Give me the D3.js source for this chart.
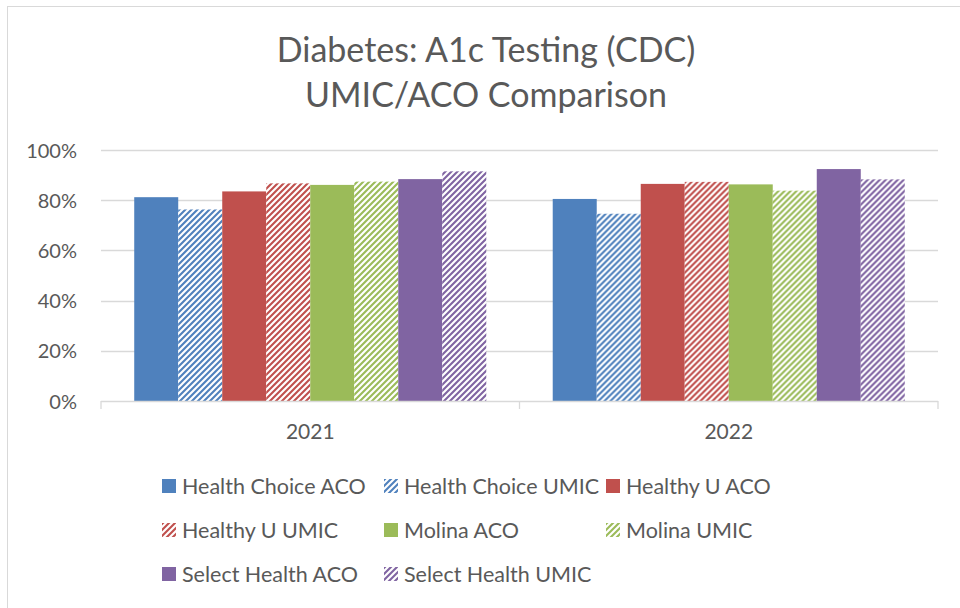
<!DOCTYPE html>
<html>
<head>
<meta charset="UTF-8">
<script src="https://d3js.org/d3.v7.min.js"></script>
<style>
  body { margin: 0; background: #fff; }
  text { font-family: Lato, "Open Sans", sans-serif; fill: #595959; }
</style>
</head>
<body>
<svg id="chart" width="960" height="608"></svg>
<script>
// data
var years = ["2021", "2022"];
var seriesNames = ["Health Choice ACO", "Health Choice UMIC", "Healthy U ACO", "Healthy U UMIC",
                   "Molina ACO", "Molina UMIC", "Select Health ACO", "Select Health UMIC"];
var values2021 = [0.812, 0.763, 0.835, 0.867, 0.861, 0.874, 0.884, 0.915];
var values2022 = [0.805, 0.746, 0.865, 0.873, 0.863, 0.838, 0.924, 0.883];
var yTicks = [0, 0.2, 0.4, 0.6, 0.8, 1.0];
var seriesColors = ["#4F81BD", "#4F81BD", "#C0504D", "#C0504D", "#9BBB59", "#9BBB59", "#8064A2", "#8064A2"];
var seriesHatched = [false, true, false, true, false, true, false, true];

var svg = d3.select("#chart");

// cadre du graphique
svg.append("rect")
  .attr("x", 7.5).attr("y", 6.5)
  .attr("width", 1000).attr("height", 700)
  .attr("fill", "none").attr("stroke", "#D9D9D9");

// motifs hachurés (diagonale montante)
var defs = svg.append("defs");
seriesColors.forEach(function(c, i) {
  if (!seriesHatched[i]) return;
  var p = defs.append("pattern")
    .attr("id", "hatch" + i)
    .attr("patternUnits", "userSpaceOnUse")
    .attr("width", 6).attr("height", 6);
  p.append("rect").attr("width", 6).attr("height", 6).attr("fill", "#fff");
  p.append("path")
    .attr("d", "M-1.5,1.5 l3,-3 M0,6 l6,-6 M4.5,7.5 l3,-3")
    .attr("stroke", c).attr("stroke-width", 2.1);
});
function fillFor(i) { return seriesHatched[i] ? "url(#hatch" + i + ")" : seriesColors[i]; }

// titre
var title = svg.append("text")
  .attr("text-anchor", "middle")
  .style("font-size", "34px");
title.append("tspan").attr("x", 486).attr("y", 62).text("Diabetes: A1c Testing (CDC)");
title.append("tspan").attr("x", 486).attr("y", 107).text("UMIC/ACO Comparison");

// échelles
var plotLeft = 101, plotRight = 938, plotTop = 150, plotBottom = 401;
var x = d3.scaleBand().domain(years).range([plotLeft, plotRight]);
var xInner = d3.scaleBand().domain(d3.range(seriesNames.length))
  .range([0, x.bandwidth()]).paddingOuter(0.755).paddingInner(0);
var y = d3.scaleLinear().domain([0, 1]).range([plotBottom, plotTop]);

// grille
svg.append("g").selectAll("line")
  .data(yTicks.slice(1))
  .enter().append("line")
    .attr("x1", plotLeft).attr("x2", plotRight)
    .attr("y1", function(d) { return Math.round(y(d)) + 0.5; })
    .attr("y2", function(d) { return Math.round(y(d)) + 0.5; })
    .attr("stroke", "#D9D9D9").attr("stroke-width", 1.3);

// axe Y
var yAxis = svg.append("g")
  .attr("transform", "translate(" + (plotLeft - 24) + ",0)")
  .call(d3.axisLeft(y).tickValues(yTicks).tickFormat(d3.format(".0%")).tickSize(0));
yAxis.select(".domain").remove();
yAxis.selectAll("text")
  .style("font-size", "20px")
  .style("font-family", "Lato, 'Open Sans', sans-serif")
  .attr("fill", "#595959").attr("x", 0).attr("dy", "0.35em");

// barres
var table = years.map(function(yr, j) {
  var vals = j === 0 ? values2021 : values2022;
  return { year: yr, vals: vals };
});
svg.append("g").selectAll("g")
  .data(table)
  .enter().append("g")
    .attr("transform", function(d) { return "translate(" + x(d.year) + ",0)"; })
  .selectAll("rect")
  .data(function(d) { return d.vals.map(function(v, i) { return { i: i, v: v }; }); })
  .enter().append("rect")
    .attr("x", function(d) { return xInner(d.i); })
    .attr("width", xInner.bandwidth())
    .attr("y", function(d) { return y(d.v); })
    .attr("height", function(d) { return y(0) - y(d.v); })
    .attr("fill", function(d) { return fillFor(d.i); });

// axe X
var xAxis = svg.append("g")
  .attr("transform", "translate(0," + plotBottom + ")");
xAxis.append("line")
  .attr("x1", plotLeft).attr("x2", plotRight).attr("y1", 0.5).attr("y2", 0.5)
  .attr("stroke", "#D9D9D9").attr("stroke-width", 1.3);
xAxis.selectAll("line.tick")
  .data([plotLeft, plotLeft + x.bandwidth(), plotRight])
  .enter().append("line")
    .attr("class", "tick")
    .attr("x1", function(d) { return d; }).attr("x2", function(d) { return d; })
    .attr("y1", 0).attr("y2", 8)
    .attr("stroke", "#D9D9D9").attr("stroke-width", 1.3);
xAxis.selectAll("text")
  .data(years)
  .enter().append("text")
    .attr("x", function(d) { return x(d) + x.bandwidth() / 2; })
    .attr("y", 31)
    .attr("dy", "0.35em")
    .attr("text-anchor", "middle")
    .style("font-size", "21px")
    .text(function(d) { return d; });

// légende
var legendCols = [162, 384, 606];
var legendRows = [486, 530, 574];
var leg = svg.append("g").selectAll("g")
  .data(seriesNames)
  .enter().append("g")
    .attr("transform", function(d, i) {
      return "translate(" + legendCols[i % 3] + "," + legendRows[Math.floor(i / 3)] + ")";
    });
leg.append("rect")
  .attr("x", 0).attr("y", -7).attr("width", 14).attr("height", 14)
  .attr("fill", function(d, i) { return fillFor(i); });
leg.append("text")
  .attr("x", 20).attr("y", 0).attr("dy", "0.35em")
  .style("font-size", "21.5px")
  .text(function(d) { return d; });
</script>
</body>
</html>
